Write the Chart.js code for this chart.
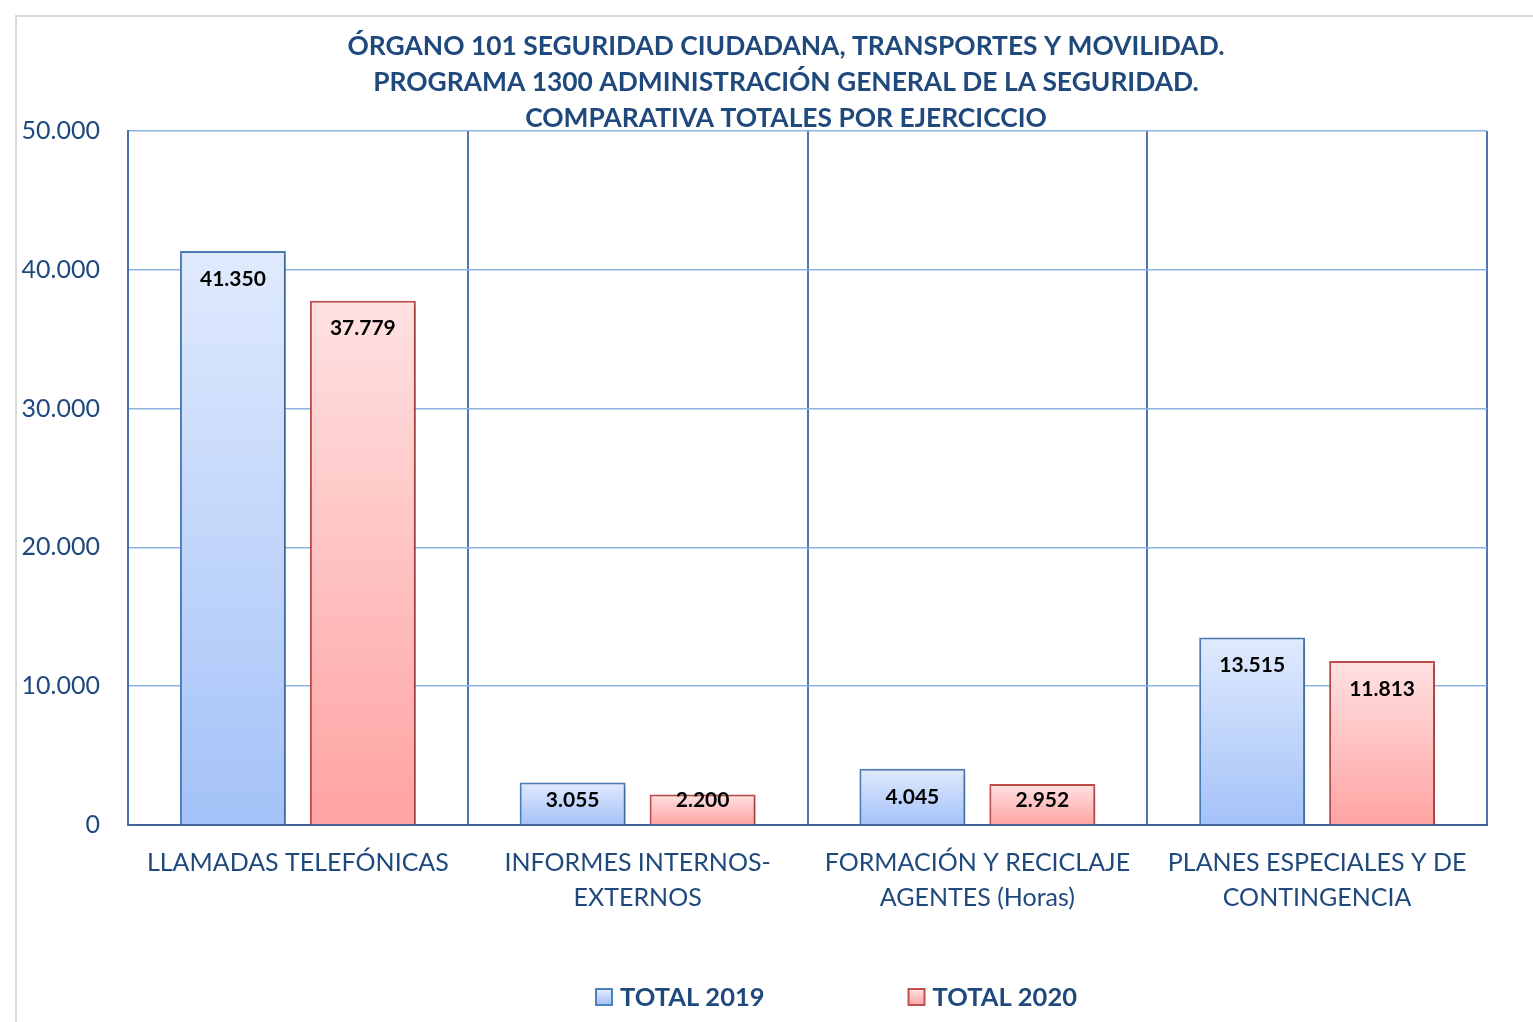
<!DOCTYPE html>
<html>
<head>
<meta charset="utf-8">
<script src="https://cdn.jsdelivr.net/npm/chart.js@4.4.1/dist/chart.umd.min.js"></script>
<style>
  html, body { margin: 0; padding: 0; background: #fff; }
  #frame { position: absolute; left: 15px; top: 15px; width: 1600px; height: 1100px; border: 2px solid #d9d9d9; }
  #wrap { position: absolute; left: 0; top: 0; width: 1533px; height: 1022px; }
</style>
</head>
<body>
<div id="frame"></div>
<div id="wrap"><canvas id="grafico" width="1533" height="1022"></canvas></div>
<script>
const categorias = [
  ['LLAMADAS TELEFÓNICAS'],
  ['INFORMES INTERNOS-', 'EXTERNOS'],
  ['FORMACIÓN Y RECICLAJE', 'AGENTES (Horas)'],
  ['PLANES ESPECIALES Y DE', 'CONTINGENCIA']
];
const total2019 = [41350, 3055, 4045, 13515];
const total2020 = [37779, 2200, 2952, 11813];
const titulo = [
  'ÓRGANO 101 SEGURIDAD CIUDADANA, TRANSPORTES Y MOVILIDAD.',
  'PROGRAMA 1300 ADMINISTRACIÓN GENERAL DE LA SEGURIDAD.',
  'COMPARATIVA TOTALES POR EJERCICCIO'
];

const azulTexto = '#1f497d';
const fuente = 'Lato, "Open Sans", sans-serif';

// 41350 -> "41.350"
const fmt = (n) => String(n).replace(/\B(?=(\d{3})+(?!\d))/g, '.');

function degradado(arriba, abajo) {
  return (context) => {
    const chart = context.chart;
    if (!chart.chartArea || context.type !== 'data') return abajo;
    const y = chart.scales.y;
    const top = y.getPixelForValue(context.parsed.y);
    const base = y.getPixelForValue(0);
    const g = chart.ctx.createLinearGradient(0, top, 0, base);
    g.addColorStop(0, arriba);
    g.addColorStop(1, abajo);
    return g;
  };
}

// el título de Excel no está centrado en todo el lienzo, lo movemos un poco
const centrarTitulo = {
  id: 'centrarTitulo',
  afterLayout(chart) {
    if (chart.titleBlock) {
      chart.titleBlock.left = 85;
      chart.titleBlock.right = chart.chartArea.right;
    }
  }
};

const sombrasYValores = {
  id: 'sombrasYValores',
  beforeDatasetsDraw(chart) {
    const ctx = chart.ctx;
    ctx.save();
    ctx.shadowColor = 'rgba(0,0,0,0.28)';
    ctx.shadowBlur = 6;
    ctx.shadowOffsetX = 2;
    ctx.shadowOffsetY = 2;
  },
  afterDatasetsDraw(chart) {
    const ctx = chart.ctx;
    ctx.restore();
    const base = chart.scales.y.getPixelForValue(0);
    ctx.save();
    ctx.font = 'bold 21px ' + fuente;
    ctx.fillStyle = '#000';
    ctx.textAlign = 'center';
    ctx.textBaseline = 'middle';
    chart.data.datasets.forEach((ds, i) => {
      chart.getDatasetMeta(i).data.forEach((bar, j) => {
        const y = Math.min(bar.y + 28, base - 25);
        ctx.fillText(fmt(ds.data[j]), bar.x, y);
      });
    });
    ctx.restore();
  }
};

const leyenda = {
  id: 'leyenda',
  afterDraw(chart) {
    const ctx = chart.ctx;
    const area = chart.chartArea;
    const items = [
      { texto: 'TOTAL 2019', arriba: '#e3ecfd', abajo: '#a4c2f8', borde: '#4f81bd' },
      { texto: 'TOTAL 2020', arriba: '#ffe3e3', abajo: '#ffa3a3', borde: '#c0504d' }
    ];
    ctx.save();
    ctx.font = 'bold 25.5px ' + fuente;
    ctx.textBaseline = 'middle';
    ctx.textAlign = 'left';
    const caja = 16, sep = 8, hueco = 144;
    const anchos = items.map(it => caja + sep + ctx.measureText(it.texto).width);
    const total = anchos[0] + hueco + anchos[1];
    let x = (area.left + area.right) / 2 + 29 - total / 2;
    const y = area.bottom + 172;
    items.forEach((it, i) => {
      const g = ctx.createLinearGradient(0, y - caja / 2, 0, y + caja / 2);
      g.addColorStop(0, it.arriba);
      g.addColorStop(1, it.abajo);
      ctx.fillStyle = g;
      ctx.fillRect(x, y - caja / 2, caja, caja);
      ctx.strokeStyle = it.borde;
      ctx.lineWidth = 2;
      ctx.strokeRect(x, y - caja / 2, caja, caja);
      ctx.fillStyle = azulTexto;
      ctx.fillText(it.texto, x + caja + sep, y + 1);
      x += anchos[i] + hueco;
    });
    ctx.restore();
  }
};

new Chart(document.getElementById('grafico'), {
  type: 'bar',
  data: {
    labels: categorias,
    datasets: [
      {
        label: 'TOTAL 2019',
        data: total2019,
        backgroundColor: degradado('#e0eafd', '#a4c2f8'),
        borderColor: '#4f81bd',
        borderWidth: 2
      },
      {
        label: 'TOTAL 2020',
        data: total2020,
        backgroundColor: degradado('#ffe1e1', '#ffa3a3'),
        borderColor: '#c0504d',
        borderWidth: 2
      }
    ]
  },
  plugins: [centrarTitulo, sombrasYValores, leyenda],
  options: {
    responsive: false,
    animation: false,
    categoryPercentage: 0.765,
    barPercentage: 0.815,
    layout: { padding: { left: 0, right: 46, top: 0, bottom: 0 } },
    plugins: {
      legend: { display: false },
      tooltip: { enabled: false },
      title: {
        display: true,
        text: titulo,
        color: azulTexto,
        font: { family: fuente, size: 26.4, weight: 'bold', lineHeight: 1.364 },
        padding: { top: 28, bottom: -5 }
      }
    },
    scales: {
      x: {
        grid: { color: '#4f74ab', lineWidth: 2, drawTicks: false, offset: true },
        border: { color: '#3f6399', width: 2 },
        ticks: {
          color: azulTexto,
          font: { family: fuente, size: 25, lineHeight: 1.4 },
          padding: 20,
          maxRotation: 0,
          autoSkip: false
        },
        afterFit(scale) { scale.height = 197; }
      },
      y: {
        min: 0,
        max: 50000,
        grid: { color: '#8db3e2', lineWidth: 1.5, drawTicks: false },
        border: { color: '#4a6fa5', width: 2 },
        ticks: {
          stepSize: 10000,
          color: azulTexto,
          font: { family: fuente, size: 25 },
          padding: 28,
          callback: (v) => fmt(v)
        },
        afterFit(scale) { scale.width = 128; }
      }
    }
  }
});
</script>
</body>
</html>
